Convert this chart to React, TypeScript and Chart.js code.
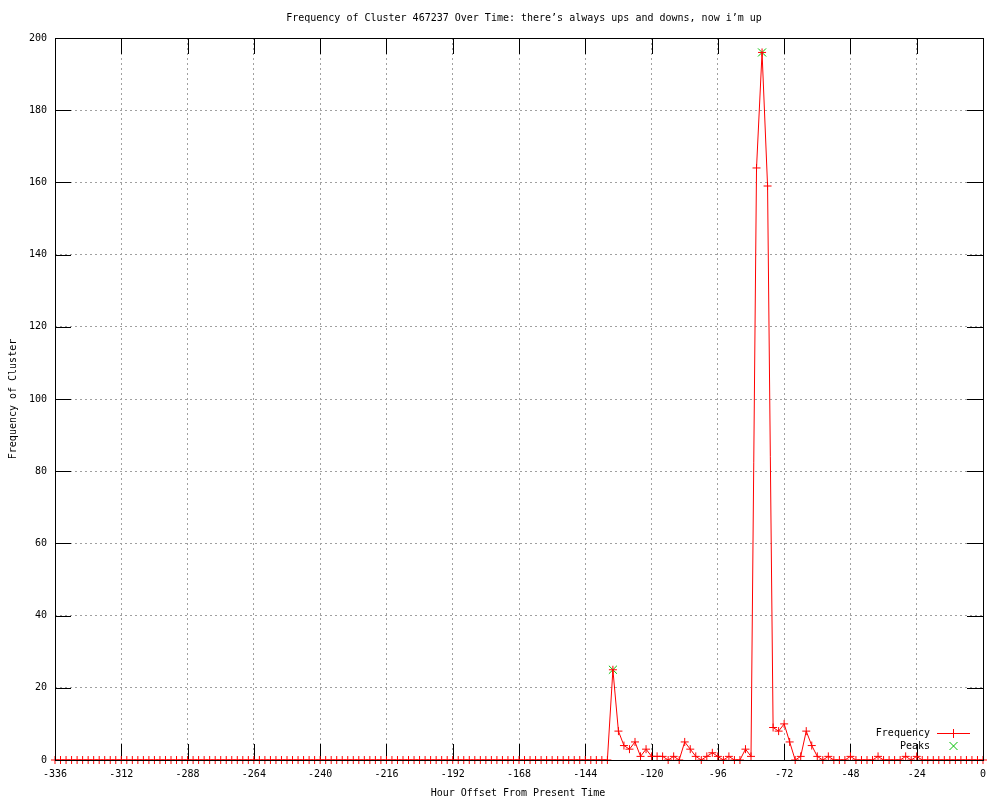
import React, { useEffect, useRef } from "react";
import { Chart, registerables } from "chart.js";

Chart.register(...registerables);

const TITLE = "Frequency of Cluster 467237 Over Time: there’s always ups and downs, now i’m up";
const X_TITLE = "Hour Offset From Present Time";
const Y_TITLE = "Frequency of Cluster";

const hours: number[] = [
  -336, -334, -332, -330, -328, -326, -324, -322, -320, -318, -316, -314, -312, -310, -308, -306, -304, -302, -300, -298,
  -296, -294, -292, -290, -288, -286, -284, -282, -280, -278, -276, -274, -272, -270, -268, -266, -264, -262, -260, -258,
  -256, -254, -252, -250, -248, -246, -244, -242, -240, -238, -236, -234, -232, -230, -228, -226, -224, -222, -220, -218,
  -216, -214, -212, -210, -208, -206, -204, -202, -200, -198, -196, -194, -192, -190, -188, -186, -184, -182, -180, -178,
  -176, -174, -172, -170, -168, -166, -164, -162, -160, -158, -156, -154, -152, -150, -148, -146, -144, -142, -140, -138,
  -136, -134, -132, -130, -128, -126, -124, -122, -120, -118, -116, -114, -112, -110, -108, -106, -104, -102, -100, -98,
  -96, -94, -92, -90, -88, -86, -84, -82, -80, -78, -76, -74, -72, -70, -68, -66, -64, -62, -60, -58,
  -56, -54, -52, -50, -48, -46, -44, -42, -40, -38, -36, -34, -32, -30, -28, -26, -24, -22, -20, -18,
  -16, -14, -12, -10, -8, -6, -4, -2, 0,
];

const frequency: number[] = [
  0, 0, 0, 0, 0, 0, 0, 0, 0, 0, 0, 0, 0, 0, 0, 0, 0, 0, 0, 0,
  0, 0, 0, 0, 0, 0, 0, 0, 0, 0, 0, 0, 0, 0, 0, 0, 0, 0, 0, 0,
  0, 0, 0, 0, 0, 0, 0, 0, 0, 0, 0, 0, 0, 0, 0, 0, 0, 0, 0, 0,
  0, 0, 0, 0, 0, 0, 0, 0, 0, 0, 0, 0, 0, 0, 0, 0, 0, 0, 0, 0,
  0, 0, 0, 0, 0, 0, 0, 0, 0, 0, 0, 0, 0, 0, 0, 0, 0, 0, 0, 0,
  0, 25, 8, 4, 3, 5, 1, 3, 1, 1, 1, 0, 1, 0, 5, 3, 1, 0, 1, 2,
  1, 0, 1, 0, 0, 3, 1, 164, 196, 159, 9, 8, 10, 5, 0, 1, 8, 4, 1, 0,
  1, 0, 0, 0, 1, 0, 0, 0, 0, 1, 0, 0, 0, 0, 1, 0, 1, 0, 0, 0,
  0, 0, 0, 0, 0, 0, 0, 0, 0,
];

const peakHours: number[] = [-134, -80];
const peakValues: number[] = [25, 196];

const xTicks = { min: -336, max: 0, step: 24 };
const yTicks = { min: 0, max: 200, step: 20 };

const RED = "#ff0000";
const GREEN = "#00c000";
const FONT = "10px 'DejaVu Sans Mono', monospace";

const overlay = {
  id: "overlay",
  beforeDatasetsDraw(chart: any) {
    const { ctx, chartArea: a, scales } = chart;
    const L = 16;
    ctx.save();
    ctx.setLineDash([]);
    ctx.lineDashOffset = 0;
    ctx.strokeStyle = "#000";
    ctx.lineWidth = 1;
    ctx.beginPath();
    for (const t of scales.x.ticks) {
      const px = Math.round(scales.x.getPixelForValue(t.value)) + 0.5;
      ctx.moveTo(px, a.bottom);
      ctx.lineTo(px, a.bottom - L);
      ctx.moveTo(px, a.top);
      ctx.lineTo(px, a.top + L);
    }
    for (const t of scales.y.ticks) {
      const py = Math.round(scales.y.getPixelForValue(t.value)) + 0.5;
      ctx.moveTo(a.left, py);
      ctx.lineTo(a.left + L, py);
      ctx.moveTo(a.right, py);
      ctx.lineTo(a.right - L, py);
    }
    ctx.stroke();
    ctx.restore();
  },
  afterDatasetsDraw(chart: any) {
    const { ctx, chartArea: a } = chart;
    ctx.save();
    ctx.setLineDash([]);
    ctx.strokeStyle = "#000";
    ctx.lineWidth = 1;
    ctx.strokeRect(Math.round(a.left) + 0.5, Math.round(a.top) + 0.5, Math.round(a.right - a.left), Math.round(a.bottom - a.top));
    ctx.restore();
  },
  afterDraw(chart: any) {
    const { ctx } = chart;
    ctx.save();
    ctx.setLineDash([]);
    ctx.fillStyle = "#000";
    ctx.font = FONT;
    ctx.textBaseline = "middle";
    ctx.textAlign = "center";
    ctx.fillText(TITLE, 524, 18);
    ctx.fillText(X_TITLE, 518, 793);
    ctx.save();
    ctx.translate(13, 399);
    ctx.rotate(-Math.PI / 2);
    ctx.fillText(Y_TITLE, 0, 0);
    ctx.restore();

    // legend
    ctx.textAlign = "right";
    ctx.fillText("Frequency", 930, 733);
    ctx.fillText("Peaks", 930, 746);
    ctx.setLineDash([]);
    ctx.strokeStyle = RED;
    ctx.lineWidth = 1;
    ctx.beginPath();
    ctx.moveTo(937, 733.5);
    ctx.lineTo(970, 733.5);
    ctx.moveTo(953.5, 729);
    ctx.lineTo(953.5, 738);
    ctx.stroke();
    ctx.strokeStyle = GREEN;
    ctx.beginPath();
    ctx.moveTo(949.5, 742);
    ctx.lineTo(957.5, 750);
    ctx.moveTo(957.5, 742);
    ctx.lineTo(949.5, 750);
    ctx.stroke();
    ctx.restore();
  },
};

export default function App() {
  const ref = useRef<HTMLCanvasElement | null>(null);

  useEffect(() => {
    if (!ref.current) return;
    Chart.defaults.font.family = "'DejaVu Sans Mono', monospace";
    Chart.defaults.font.size = 10;
    Chart.defaults.color = "#000";

    const chart = new Chart(ref.current, {
      type: "line",
      data: {
        datasets: [
          {
            label: "Frequency",
            data: hours.map((h, i) => ({ x: h, y: frequency[i] })),
            borderColor: RED,
            backgroundColor: RED,
            borderWidth: 1,
            pointStyle: "cross",
            pointRadius: 4,
            pointBorderWidth: 1,
            pointBorderColor: RED,
            tension: 0,
            clip: false,
          },
          {
            label: "Peaks",
            data: peakHours.map((h, i) => ({ x: h, y: peakValues[i] })),
            showLine: false,
            borderColor: GREEN,
            backgroundColor: GREEN,
            pointStyle: "crossRot",
            pointRadius: 5.7,
            pointBorderWidth: 1,
            pointBorderColor: GREEN,
            clip: false,
          },
        ],
      },
      options: {
        responsive: false,
        animation: false,
        layout: { padding: { top: 38, right: 17, left: 0, bottom: 0 } },
        plugins: {
          legend: { display: false },
          title: { display: false },
          tooltip: { enabled: false },
        },
        scales: {
          x: {
            type: "linear",
            min: xTicks.min,
            max: xTicks.max,
            afterFit: (s: any) => {
              s.height = 40;
            },
            ticks: {
              stepSize: xTicks.step,
              padding: 8,
              maxRotation: 0,
              autoSkip: false,
              callback: (v: any) => String(v),
            },
            grid: { color: "#a0a0a0", drawTicks: false, lineWidth: 1 },
            border: { display: false, dash: [2, 3] },
          },
          y: {
            type: "linear",
            min: yTicks.min,
            max: yTicks.max,
            afterFit: (s: any) => {
              s.width = 55;
            },
            ticks: {
              stepSize: yTicks.step,
              padding: 8,
              callback: (v: any) => String(v),
            },
            grid: { color: "#a0a0a0", drawTicks: false, lineWidth: 1 },
            border: { display: false, dash: [2, 3] },
          },
        },
      },
      plugins: [overlay],
    });
    return () => chart.destroy();
  }, []);

  return (
    <div style={{ position: "absolute", left: 0, top: 0, width: 1000, height: 800, background: "#fff" }}>
      <canvas ref={ref} width={1000} height={800} style={{ display: "block" }} />
    </div>
  );
}
